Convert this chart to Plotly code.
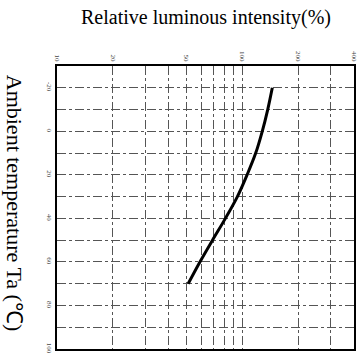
import plotly.graph_objects as go

temperature = [-20, -10, 0, 10, 20, 30, 40, 50, 60, 70]
relative_intensity = [145, 137, 128, 118, 106, 94, 81, 69, 59, 51]

x_grid = [10, 20, 30, 40, 50, 60, 70, 80, 90, 100, 200, 300, 400]
x_labels = ["10", "20", "", "", "50", "", "", "", "", "100", "200", "", "400"]
y_grid = [-30, -20, -10, 0, 10, 20, 30, 40, 50, 60, 70, 80, 90, 100]
y_labels = ["", "-20", "", "0", "", "20", "", "40", "", "60", "", "80", "", "100"]

title_x = "Relative luminous intensity(%)"
title_y = "Ambient temperature Ta (\u2103)"

fig = go.Figure()
fig.add_trace(go.Scatter(
    x=relative_intensity, y=temperature, mode="lines",
    line=dict(color="black", width=3, shape="spline"),
    showlegend=False,
))

serif = "Liberation Serif, Times New Roman, serif"

fig.update_layout(
    width=364, height=360,
    margin=dict(l=57, r=9, t=66, b=6),
    paper_bgcolor="white", plot_bgcolor="white",
    font=dict(family=serif, color="black"),
    xaxis=dict(
        type="log", range=[1, 2.60206], side="top",
        tickvals=x_grid, ticktext=x_labels, tickangle=90,
        tickfont=dict(size=7, color="#444"),
        showgrid=True, gridcolor="#555", griddash="dashdot", gridwidth=1,
        showline=True, linecolor="black", linewidth=2, mirror=True,
        ticks="", zeroline=False,
    ),
    yaxis=dict(
        range=[100, -30],
        tickvals=y_grid, ticktext=y_labels, tickangle=90,
        tickfont=dict(size=7, color="#444"),
        showgrid=True, gridcolor="#555", griddash="dashdot", gridwidth=1,
        showline=True, linecolor="black", linewidth=2, mirror=True,
        ticks="", zeroline=False,
    ),
    annotations=[
        dict(text=title_x, xref="paper", yref="paper", x=0.503, y=1.172,
             xanchor="center", yanchor="middle",
             showarrow=False, font=dict(size=20, family=serif)),
        dict(text=title_y, xref="paper", yref="paper", x=-0.145, y=0.517,
             textangle=90, showarrow=False, font=dict(size=22, family=serif),
             xanchor="center", yanchor="middle"),
    ],
)

fig.write_html("out.html")
